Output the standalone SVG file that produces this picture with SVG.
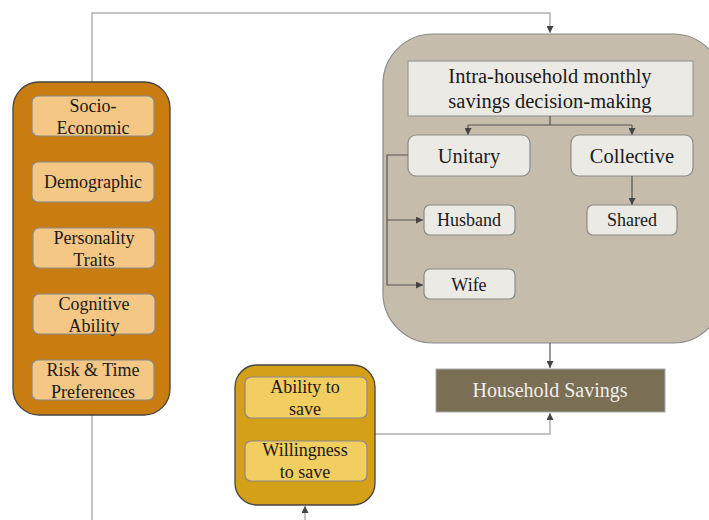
<svg xmlns="http://www.w3.org/2000/svg" width="709" height="520" viewBox="0 0 709 520">
<style>
text{font-family:"Liberation Serif","DejaVu Serif",serif;fill:#1a1a1a;text-anchor:middle}
.t16{font-size:18px}
.t18{font-size:20.5px}
.inO{fill:#F5C785;stroke:#8a8a8a;stroke-width:1.2}
.inY{fill:#F2CD60;stroke:#8a8a8a;stroke-width:1.2}
.inB{fill:#ECEAE4;stroke:#8a8a8a;stroke-width:1.2}
.lg{fill:none;stroke:#b0b0b0;stroke-width:1.5}
.dk{fill:none;stroke:#555;stroke-width:1.2}
</style>
<defs>
<marker id="ar" viewBox="0 0 10 10" refX="10" refY="5" markerWidth="7" markerHeight="7" markerUnits="userSpaceOnUse" orient="auto">
<path d="M0,0L10,5L0,10z" fill="#444"/>
</marker>
</defs>
<g id="connectors">
<path class="lg" d="M92,82V13H550V33" marker-end="url(#ar)"/>
<path class="lg" d="M92,415V520"/>
<path class="lg" d="M305,520V506" marker-end="url(#ar)"/>
<path class="lg" d="M375,434H550V413" marker-end="url(#ar)"/>
</g>
<g id="factors">
<rect x="13" y="82" width="157" height="333" rx="26" fill="#C97C10" stroke="#444" stroke-width="1.3"/>
<g id="socio"><rect class="inO" x="32" y="96" width="122" height="40" rx="6"/><text class="t16" x="93" y="112">Socio-</text><text class="t16" x="93" y="134">Economic</text></g>
<g id="demo"><rect class="inO" x="32" y="162" width="122" height="40" rx="6"/><text class="t16" x="93" y="188">Demographic</text></g>
<g id="personality"><rect class="inO" x="33" y="228" width="122" height="40" rx="6"/><text class="t16" x="94" y="244">Personality</text><text class="t16" x="94" y="266">Traits</text></g>
<g id="cognitive"><rect class="inO" x="33" y="294" width="122" height="40" rx="6"/><text class="t16" x="94" y="310">Cognitive</text><text class="t16" x="94" y="332">Ability</text></g>
<g id="risk"><rect class="inO" x="32" y="360" width="122" height="40" rx="6"/><text class="t16" x="93" y="376">Risk &amp; Time</text><text class="t16" x="93" y="398">Preferences</text></g>
</g>
<g id="capacity">
<rect x="235" y="365" width="140" height="140" rx="22" fill="#D4A017" stroke="#444" stroke-width="1.3"/>
<g id="ability"><rect class="inY" x="245" y="377" width="122" height="41" rx="6"/><text class="t16" x="305" y="393">Ability to</text><text class="t16" x="305" y="415">save</text></g>
<g id="willingness"><rect class="inY" x="245" y="441" width="122" height="40" rx="6"/><text class="t16" x="305" y="456">Willingness</text><text class="t16" x="305" y="478">to save</text></g>
</g>
<g id="decision">
<rect x="383" y="34" width="340" height="309" rx="50" fill="#C5BCAB" stroke="#8a8a8a" stroke-width="1.2"/>
<g id="intra"><rect x="408" y="61" width="285" height="55" fill="#ECEAE4" stroke="#999" stroke-width="1.2"/><text class="t18" x="550" y="83">Intra-household monthly</text><text class="t18" x="550" y="108">savings decision-making</text></g>
<path class="dk" d="M550,116V125"/>
<path class="dk" d="M468,125H632"/>
<path class="dk" d="M468,125V135" marker-end="url(#ar)"/>
<path class="dk" d="M632,125V135" marker-end="url(#ar)"/>
<g id="unitary"><rect class="inB" x="408" y="135" width="122" height="41" rx="8"/><text class="t18" x="469" y="163">Unitary</text></g>
<g id="collective"><rect class="inB" x="571" y="135" width="122" height="41" rx="8"/><text class="t18" x="632" y="163">Collective</text></g>
<path class="dk" d="M408,155H387V285H423" marker-end="url(#ar)"/>
<path class="dk" d="M387,220H423" marker-end="url(#ar)"/>
<path class="dk" d="M632,176V205" marker-end="url(#ar)"/>
<g id="husband"><rect class="inB" x="424" y="205" width="91" height="30" rx="6"/><text class="t16" x="469" y="226">Husband</text></g>
<g id="wife"><rect class="inB" x="424" y="269" width="91" height="30" rx="6"/><text class="t16" x="469" y="291">Wife</text></g>
<g id="shared"><rect class="inB" x="587" y="205" width="90" height="30" rx="6"/><text class="t16" x="632" y="226">Shared</text></g>
</g>
<path class="dk" d="M550,343V368" marker-end="url(#ar)"/>
<g id="savings">
<rect x="436" y="369" width="229" height="43" fill="#7A6E55" stroke="#aaa" stroke-width="1"/>
<text x="550" y="397" style="font-size:20px;fill:#F2EFE8">Household Savings</text>
</g>
</svg>
